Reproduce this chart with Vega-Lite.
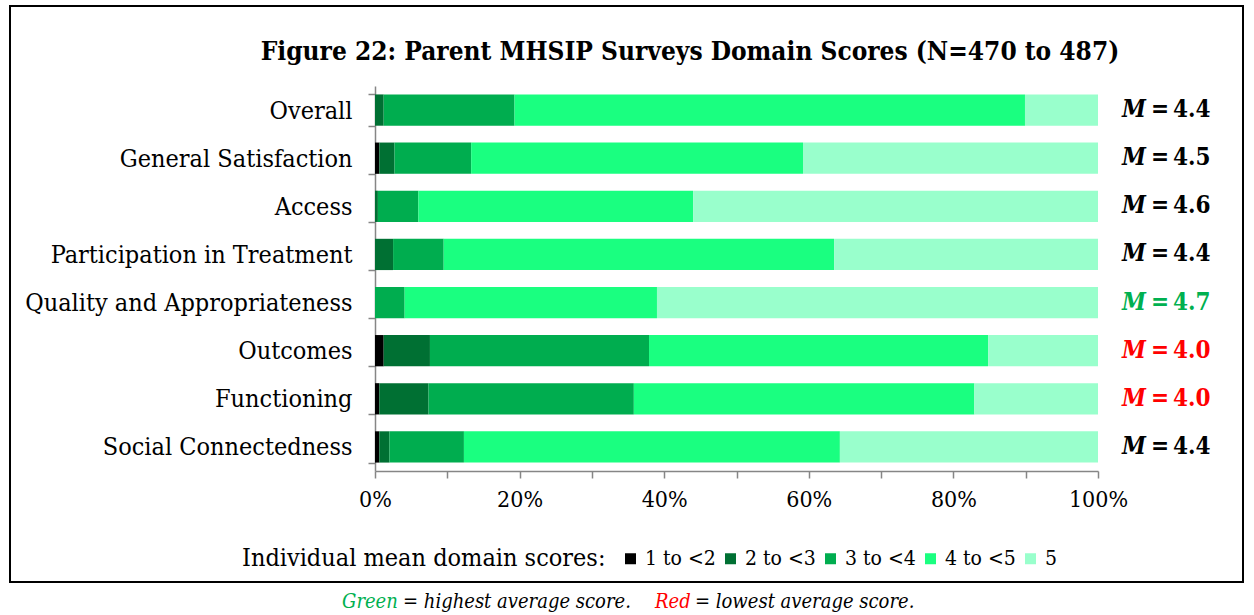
{
  "$schema": "https://vega.github.io/schema/vega-lite/v6.json",
  "autosize": {"type": "none"},
  "width": 723,
  "height": 385,
  "padding": {"left": 375, "top": 86, "right": 156, "bottom": 144},
  "background": "white",
  "config": {"view": {"stroke": null}, "font": "DejaVu Serif Condensed"},
  "resolve": {"scale": {"color": "independent"}, "legend": {"color": "independent"}},
  "datasets": {
    "scores": [
      {"domain": "Overall", "score": "1 to <2", "pct": 0},
      {"domain": "Overall", "score": "2 to <3", "pct": 1.2},
      {"domain": "Overall", "score": "3 to <4", "pct": 18.1},
      {"domain": "Overall", "score": "4 to <5", "pct": 70.6},
      {"domain": "Overall", "score": "5", "pct": 10.1},
      {"domain": "General Satisfaction", "score": "1 to <2", "pct": 0.6},
      {"domain": "General Satisfaction", "score": "2 to <3", "pct": 2.1},
      {"domain": "General Satisfaction", "score": "3 to <4", "pct": 10.6},
      {"domain": "General Satisfaction", "score": "4 to <5", "pct": 45.9},
      {"domain": "General Satisfaction", "score": "5", "pct": 40.8},
      {"domain": "Access", "score": "1 to <2", "pct": 0},
      {"domain": "Access", "score": "2 to <3", "pct": 0.4},
      {"domain": "Access", "score": "3 to <4", "pct": 5.6},
      {"domain": "Access", "score": "4 to <5", "pct": 38.0},
      {"domain": "Access", "score": "5", "pct": 56.0},
      {"domain": "Participation in Treatment", "score": "1 to <2", "pct": 0},
      {"domain": "Participation in Treatment", "score": "2 to <3", "pct": 2.5},
      {"domain": "Participation in Treatment", "score": "3 to <4", "pct": 7.0},
      {"domain": "Participation in Treatment", "score": "4 to <5", "pct": 54.0},
      {"domain": "Participation in Treatment", "score": "5", "pct": 36.5},
      {"domain": "Quality and Appropriateness", "score": "1 to <2", "pct": 0},
      {"domain": "Quality and Appropriateness", "score": "2 to <3", "pct": 0},
      {"domain": "Quality and Appropriateness", "score": "3 to <4", "pct": 4.1},
      {"domain": "Quality and Appropriateness", "score": "4 to <5", "pct": 34.9},
      {"domain": "Quality and Appropriateness", "score": "5", "pct": 61.0},
      {"domain": "Outcomes", "score": "1 to <2", "pct": 1.2},
      {"domain": "Outcomes", "score": "2 to <3", "pct": 6.4},
      {"domain": "Outcomes", "score": "3 to <4", "pct": 30.3},
      {"domain": "Outcomes", "score": "4 to <5", "pct": 46.9},
      {"domain": "Outcomes", "score": "5", "pct": 15.2},
      {"domain": "Functioning", "score": "1 to <2", "pct": 0.6},
      {"domain": "Functioning", "score": "2 to <3", "pct": 6.8},
      {"domain": "Functioning", "score": "3 to <4", "pct": 28.4},
      {"domain": "Functioning", "score": "4 to <5", "pct": 47.1},
      {"domain": "Functioning", "score": "5", "pct": 17.1},
      {"domain": "Social Connectedness", "score": "1 to <2", "pct": 0.6},
      {"domain": "Social Connectedness", "score": "2 to <3", "pct": 1.4},
      {"domain": "Social Connectedness", "score": "3 to <4", "pct": 10.3},
      {"domain": "Social Connectedness", "score": "4 to <5", "pct": 52.0},
      {"domain": "Social Connectedness", "score": "5", "pct": 35.7}
    ],
    "means": [
      {"domain": "Overall", "mean": "4.4", "flag": "none"},
      {"domain": "General Satisfaction", "mean": "4.5", "flag": "none"},
      {"domain": "Access", "mean": "4.6", "flag": "none"},
      {"domain": "Participation in Treatment", "mean": "4.4", "flag": "none"},
      {"domain": "Quality and Appropriateness", "mean": "4.7", "flag": "highest"},
      {"domain": "Outcomes", "mean": "4.0", "flag": "lowest"},
      {"domain": "Functioning", "mean": "4.0", "flag": "lowest"},
      {"domain": "Social Connectedness", "mean": "4.4", "flag": "none"}
    ]
  },
  "layer": [
    {
      "data": {"values": [{}]},
      "mark": {"type": "rect", "fill": null, "stroke": "black", "strokeWidth": 2},
      "encoding": {
        "x": {"value": -365},
        "x2": {"value": 868},
        "y": {"value": -80},
        "y2": {"value": 496}
      }
    },
    {
      "data": {"values": [{}]},
      "mark": {"type": "text", "align": "center", "baseline": "middle", "fontWeight": "bold", "fontSize": 26, "font": "DejaVu Serif Condensed", "color": "black", "text": "Figure 22: Parent MHSIP Surveys Domain Scores (N=470 to 487)"},
      "encoding": {"x": {"value": 315}, "y": {"value": -34}}
    },
    {
      "data": {"name": "scores"},
      "mark": {"type": "bar", "strokeWidth": 0},
      "encoding": {
        "y": {
          "field": "domain",
          "type": "nominal",
          "sort": ["Overall", "General Satisfaction", "Access", "Participation in Treatment", "Quality and Appropriateness", "Outcomes", "Functioning", "Social Connectedness"],
          "scale": {"paddingInner": 0.35, "paddingOuter": 0.175},
          "axis": {
            "title": null,
            "domainColor": "#868686",
            "domainWidth": 1.5,
            "tickColor": "#868686",
            "tickWidth": 1.5,
            "tickSize": 7,
            "tickBand": "extent",
            "labelFont": "DejaVu Serif Condensed",
            "labelFontSize": 25,
            "labelColor": "black",
            "labelPadding": 16,
            "labelLimit": 400
          }
        },
        "x": {
          "field": "pct",
          "type": "quantitative",
          "stack": "zero",
          "scale": {"domain": [0, 100], "nice": false},
          "axis": {
            "title": null,
            "values": [0, 10, 20, 30, 40, 50, 60, 70, 80, 90, 100],
            "labelExpr": "datum.value % 20 === 0 ? datum.value + '%' : ''",
            "grid": false,
            "domainColor": "#868686",
            "domainWidth": 1.5,
            "tickColor": "#868686",
            "tickWidth": 1.5,
            "tickSize": 7,
            "labelFont": "DejaVu Serif Condensed",
            "labelFontSize": 23,
            "labelColor": "black",
            "labelPadding": 10,
            "labelFlush": false,
            "labelOverlap": false
          }
        },
        "color": {
          "field": "score",
          "type": "nominal",
          "scale": {
            "domain": ["1 to <2", "2 to <3", "3 to <4", "4 to <5", "5"],
            "range": ["#000000", "#007033", "#00AD4F", "#1AFF80", "#99FFCC"]
          },
          "legend": {
            "title": "Individual mean domain scores:",
            "orient": "none",
            "legendX": -133,
            "legendY": 462,
            "direction": "horizontal",
            "titleOrient": "left",
            "titleFont": "DejaVu Serif Condensed",
            "titleFontSize": 25,
            "titleFontWeight": "normal",
            "titleColor": "black",
            "titlePadding": 14,
            "titleLimit": 500,
            "labelFont": "DejaVu Serif Condensed",
            "labelFontSize": 21,
            "labelColor": "black",
            "labelOffset": 4,
            "labelLimit": 200,
            "symbolType": "square",
            "symbolSize": 121,
            "symbolStrokeWidth": 0,
            "gridAlign": "all",
            "columnPadding": 4
          }
        },
        "order": {"field": "score", "type": "nominal"}
      }
    },
    {
      "data": {"name": "means"},
      "mark": {"type": "text", "align": "left", "baseline": "middle", "dx": 24, "fontStyle": "italic", "fontWeight": "bold", "fontSize": 24, "font": "DejaVu Serif Condensed"},
      "encoding": {
        "y": {"field": "domain", "type": "nominal", "sort": ["Overall", "General Satisfaction", "Access", "Participation in Treatment", "Quality and Appropriateness", "Outcomes", "Functioning", "Social Connectedness"]},
        "x": {"datum": 100},
        "text": {"value": "M"},
        "color": {"field": "flag", "type": "nominal", "scale": {"domain": ["none", "highest", "lowest"], "range": ["#000000", "#00B050", "#FF0000"]}, "legend": null}
      }
    },
    {
      "data": {"name": "means"},
      "mark": {"type": "text", "align": "left", "baseline": "middle", "dx": 53, "fontWeight": "bold", "fontSize": 24, "font": "DejaVu Serif Condensed"},
      "encoding": {
        "y": {"field": "domain", "type": "nominal", "sort": ["Overall", "General Satisfaction", "Access", "Participation in Treatment", "Quality and Appropriateness", "Outcomes", "Functioning", "Social Connectedness"]},
        "x": {"datum": 100},
        "text": {"value": "="},
        "color": {"field": "flag", "type": "nominal", "scale": {"domain": ["none", "highest", "lowest"], "range": ["#000000", "#00B050", "#FF0000"]}, "legend": null}
      }
    },
    {
      "data": {"name": "means"},
      "mark": {"type": "text", "align": "left", "baseline": "middle", "dx": 75, "fontWeight": "bold", "fontSize": 24, "font": "DejaVu Serif Condensed"},
      "encoding": {
        "y": {"field": "domain", "type": "nominal", "sort": ["Overall", "General Satisfaction", "Access", "Participation in Treatment", "Quality and Appropriateness", "Outcomes", "Functioning", "Social Connectedness"]},
        "x": {"datum": 100},
        "text": {"field": "mean", "type": "nominal"},
        "color": {"field": "flag", "type": "nominal", "scale": {"domain": ["none", "highest", "lowest"], "range": ["#000000", "#00B050", "#FF0000"]}, "legend": null}
      }
    },
    {
      "data": {"values": [{}]},
      "mark": {"type": "text", "align": "left", "baseline": "middle", "fontStyle": "italic", "fontSize": 20, "font": "DejaVu Serif Condensed", "color": "#00B050", "text": "Green"},
      "encoding": {"x": {"value": -33}, "y": {"value": 516}}
    },
    {
      "data": {"values": [{}]},
      "mark": {"type": "text", "align": "left", "baseline": "middle", "fontStyle": "italic", "fontSize": 20, "font": "DejaVu Serif Condensed", "color": "black", "text": "= highest average score."},
      "encoding": {"x": {"value": 28}, "y": {"value": 516}}
    },
    {
      "data": {"values": [{}]},
      "mark": {"type": "text", "align": "left", "baseline": "middle", "fontStyle": "italic", "fontSize": 20, "font": "DejaVu Serif Condensed", "color": "#FF0000", "text": "Red"},
      "encoding": {"x": {"value": 280}, "y": {"value": 516}}
    },
    {
      "data": {"values": [{}]},
      "mark": {"type": "text", "align": "left", "baseline": "middle", "fontStyle": "italic", "fontSize": 20, "font": "DejaVu Serif Condensed", "color": "black", "text": "= lowest average score."},
      "encoding": {"x": {"value": 320}, "y": {"value": 516}}
    }
  ]
}
